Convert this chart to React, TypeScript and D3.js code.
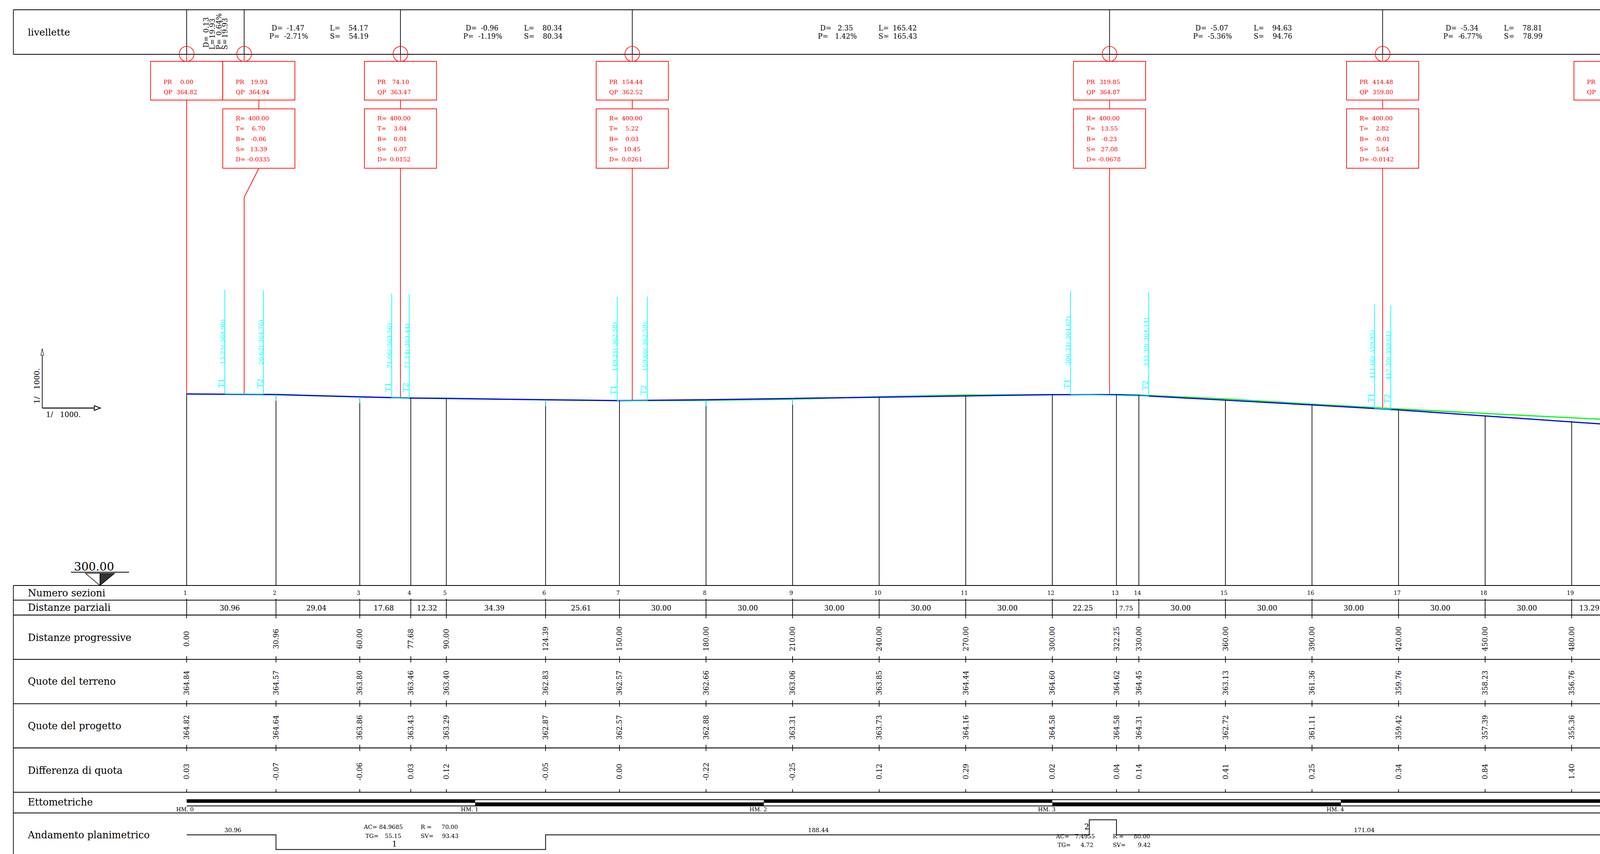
import React from "react";
import * as d3 from "d3";

const W = 4192, H = 2185;
const SERIF = "'DejaVu Serif', serif";

// Sections
const sectionNumbers = ["1","2","3","4","5","6","7","8","9","10","11","12","13","14","15","16","17","18","19"];
const sectionProgressive = [0,30.96,60,77.68,90,124.39,150,180,210,240,270,300,322.25,330,360,390,420,450,480];
const partialDistances = ["30.96","29.04","17.68","12.32","34.39","25.61","30.00","30.00","30.00","30.00","30.00","22.25","7.75","30.00","30.00","30.00","30.00","30.00","13.29"];
const terrainLevels = [364.84,364.57,363.80,363.46,363.40,362.83,362.57,362.66,363.06,363.85,364.44,364.60,364.62,364.45,363.13,361.36,359.76,358.23,356.76];
const projectLevels = [364.82,364.64,363.86,363.43,363.29,362.87,362.57,362.88,363.31,363.73,364.16,364.58,364.58,364.31,362.72,361.11,359.42,357.39,355.36];
const levelDifferences = [0.03,-0.07,-0.06,0.03,0.12,-0.05,0,-0.22,-0.25,0.12,0.29,0.02,0.04,0.14,0.41,0.25,0.34,0.84,1.40];
// Section 20, just past the right edge of the sheet (estimated levels)
const nextSectionProgressive = 493.29;
const nextTerrainLevel = 356.13;
const nextProjectLevel = 354.46;

// Vertices of the grade line
const vertexPR = [0,19.93,74.10,154.44,319.85,414.48,493.29];
const vertexQP = [364.82,364.94,363.47,362.52,364.87,359.80,354.46];
const curveR = ["", "400.00","400.00","400.00","400.00","400.00",""];
const curveT = ["", "6.70","3.04","5.22","13.55","2.82",""];
const curveB = ["", "-0.06","0.01","0.03","-0.23","-0.01",""];
const curveS = ["", "13.39","6.07","10.45","27.08","5.64",""];
const curveD = ["", "-0.0335","0.0152","0.0261","-0.0678","-0.0142",""];

// Grades
const gradeD = ["0.13","-1.47","-0.96","2.35","-5.07","-5.34"];
const gradeP = ["0.64%","-2.71%","-1.19%","1.42%","-5.36%","-6.77%"];
const gradeL = ["19.93","54.17","80.34","165.42","94.63","78.81"];
const gradeS = ["19.93","54.19","80.34","165.43","94.76","78.99"];

// Tangent points
const tangentNames = ["T1","T2","T1","T2","T1","T2","T1","T2","T1","T2"];
const tangentPR = [13.23,26.62,71.06,77.14,149.21,159.66,306.31,333.38,411.66,417.30];
const tangentQP = [364.90,364.76,363.56,363.44,362.58,362.59,364.67,364.14,359.95,359.61];

// Hectometres
const hectometres = [0,100,200,300,400,500];

// Plan alignment
const planBreaks = [0,30.96,124.39,312.83,322.25,493.29];
const planStates = [0,-1,0,1,0];
const straightLengths = ["30.96","188.44","171.04"];
const straightSpans = [[0,30.96],[124.39,312.83],[322.25,493.29]];
const arcAC = ["84.9685","7.4955"];
const arcR = ["70.00","80.00"];
const arcTG = ["55.15","4.72"];
const arcSV = ["93.43","9.42"];
const arcNames = ["1","2"];
const arcSpans = [[30.96,124.39],[312.83,322.25]];
const arcDirections = [-1,1];

const rowLabels = ["Numero sezioni","Distanze parziali","Distanze progressive","Quote del terreno","Quote del progetto","Differenza di quota","Ettometriche","Andamento planimetrico"];
const rowBaselines = [1526,1563.5,1640,1752.5,1866.5,1980,2061.5,2145.5];
const rowLines = [1498,1535.5,1573.7,1687,1800.5,1913.7,2027,2080];

const M_PX = 7.56;
const x = d3.scaleLinear().domain([0, 100]).range([489, 489 + 100 * M_PX]);
const y = d3.scaleLinear().domain([300, 364.82]).range([1498, 1008]);
const RED = "#ff0000", CYAN = "#00ffff", BLACK = "#000";

type TP = { x: number; y: number; s: number; a?: string; f?: string; rot?: boolean; children: React.ReactNode };
function T({ x: tx, y: ty, s, a = "start", f = BLACK, rot = false, children }: TP) {
  return (
    <text
      x={rot ? 0 : tx}
      y={rot ? 0 : ty}
      transform={rot ? `translate(${tx},${ty}) rotate(-90)` : undefined}
      fontSize={s}
      textAnchor={a as any}
      fill={f}
      fontFamily={SERIF}
      style={{ whiteSpace: "pre" }}
    >
      {children}
    </text>
  );
}

const L = ({ x1, y1, x2, y2, c = BLACK, w = 1.8 }: any) => <line x1={x1} y1={y1} x2={x2} y2={y2} stroke={c} strokeWidth={w} />;

export default function App() {
  const profile = d3.line<[number, number]>().x(d => x(d[0])).y(d => y(d[1]));
  const terrainPts = [...sectionProgressive.map((p, i) => [p, terrainLevels[i]] as [number, number]), [nextSectionProgressive, nextTerrainLevel] as [number, number]];
  const projectPts = [...sectionProgressive.map((p, i) => [p, projectLevels[i]] as [number, number]), [nextSectionProgressive, nextProjectLevel] as [number, number]];

  const planY = (st: number) => 2136 + (st < 0 ? 37.5 : st > 0 ? -38.5 : 0);
  const planPath = d3.path();
  planStates.forEach((st, i) => {
    if (i === 0) planPath.moveTo(x(planBreaks[0]), planY(st));
    else planPath.lineTo(x(planBreaks[i]), planY(st));
    planPath.lineTo(x(planBreaks[i + 1]), planY(st));
  });

  const sectionTicks = sectionProgressive.map(p => x(p));
  const segmentXs = sectionProgressive.map((p, i) => (x(p) + x(p + +partialDistances[i])) / 2);

  return (
    <svg
      viewBox={`0 0 ${W} ${H}`}
      preserveAspectRatio="none"
      style={{ position: "absolute", left: 0, top: 0, width: "100vw", height: "100vh", background: "#fff", display: "block" }}
    >
      {/* Grade band */}
      <L x1={35} y1={25} x2={W} y2={25} w={2.2} />
      <L x1={35} y1={139} x2={W} y2={139} w={2.2} />
      <L x1={35} y1={25} x2={35} y2={139} />
      <T x={73} y={91} s={25}>livellette</T>
      {vertexPR.slice(0, 6).map((p, i) => <L key={i} x1={x(p)} y1={25} x2={x(p)} y2={139} />)}

      {/* First short grade, rotated */}
      {[["D=", gradeD[0], 546.7, 122, 44], ["L=", gradeL[0], 563, 127, 47], ["P=", gradeP[0], 580, 127, 34], ["S=", gradeS[0], 596, 127, 46]].map((r: any, i) => (
        <g key={i}>
          <T x={r[2]} y={r[3]} s={18} rot>{r[0]}</T>
          <T x={r[2]} y={r[4]} s={18} a="end" rot>{r[1]}</T>
        </g>
      ))}
      {/* Remaining grades */}
      {gradeD.map((d, i) => {
        if (i === 0) return null;
        const mid = (x(vertexPR[i]) + x(vertexPR[i + 1])) / 2;
        return (
          <g key={i}>
            <T x={mid - 133} y={78} s={18}>D=</T>
            <T x={mid - 47} y={78} s={18} a="end">{d}</T>
            <T x={mid - 139} y={99} s={18}>P=</T>
            <T x={mid - 37} y={99} s={18} a="end">{gradeP[i]}</T>
            <T x={mid + 20} y={78} s={18}>L=</T>
            <T x={mid + 120} y={78} s={18} a="end">{gradeL[i]}</T>
            <T x={mid + 20} y={99} s={18}>S=</T>
            <T x={mid + 121} y={99} s={18} a="end">{gradeS[i]}</T>
          </g>
        );
      })}

      {/* Vertices */}
      {vertexPR.map((p, i) => {
        const vx = x(p);
        const cx = i === 1 ? vx + 38.5 : vx;
        const left = cx - 94.5;
        const hasCurve = curveR[i] !== "";
        const onSheet = i < 6;
        const bottomY = y(vertexQP[i]);
        return (
          <g key={i}>
            {onSheet && <circle cx={vx} cy={138} r={19.3} fill="none" stroke={RED} strokeWidth={1.6} />}
            {onSheet && <L x1={vx} y1={139} x2={vx} y2={157} c={RED} />}
            <rect x={left} y={157} width={189} height={99} fill="#fff" stroke={RED} strokeWidth={1.8} />
            <T x={left + 34} y={215} s={15.5} f={RED}>PR</T>
            {onSheet && <T x={cx + 0.5} y={215} s={15.5} f={RED} a="middle">{p.toFixed(2)}</T>}
            <T x={left + 34} y={240.7} s={15.5} f={RED}>QP</T>
            {onSheet && <T x={cx + 0.5} y={240.7} s={15.5} f={RED} a="middle">{vertexQP[i].toFixed(2)}</T>}
            {hasCurve && (
              <>
                <L x1={cx} y1={256} x2={cx} y2={278.5} c={RED} />
                <rect x={left} y={278.5} width={189} height={152} fill="#fff" stroke={RED} strokeWidth={1.8} />
                {[["R=", curveR[i], 308], ["T=", curveT[i], 334], ["B=", curveB[i], 361], ["S=", curveS[i], 386.7], ["D=", curveD[i], 412.7]].map((r: any, k) => (
                  <g key={k}>
                    <T x={left + 34} y={r[2]} s={15.5} f={RED}>{r[0]}</T>
                    <T x={cx - 0.5} y={r[2]} s={15.5} f={RED} a="middle">{r[1]}</T>
                  </g>
                ))}
              </>
            )}
            {i === 0 && <L x1={vx} y1={256} x2={vx} y2={bottomY} c={RED} />}
            {i === 1 && <polyline points={`${cx},430.5 ${vx},505 ${vx},${bottomY}`} fill="none" stroke={RED} strokeWidth={1.8} />}
            {i > 1 && hasCurve && <L x1={vx} y1={430.5} x2={vx} y2={bottomY} c={RED} />}
          </g>
        );
      })}

      {/* Scale */}
      <L x1={110.7} y1={905} x2={110.7} y2={1044} />
      <path d={`M110.7,892 L107,909 L114.4,909 Z`} fill="#fff" stroke={BLACK} strokeWidth={1.2} />
      <L x1={110.7} y1={1044} x2={248} y2={1044} w={2.5} />
      <path d={`M263,1044 L247,1038 L247,1050 Z`} fill="#fff" stroke={BLACK} strokeWidth={2} />
      <T x={103.6} y={1033} s={19} rot>{"1/   1000."}</T>
      <T x={120.5} y={1066.7} s={19}>{"1/   1000."}</T>

      {/* Profile */}
      <path d={profile(terrainPts)!} fill="none" stroke="#00ff00" strokeWidth={3} />
      <path d={profile(projectPts)!} fill="none" stroke="#0000ff" strokeWidth={3} />

      {/* Tangent points */}
      {tangentPR.map((p, i) => {
        const tx = x(p), ty = y(tangentQP[i]);
        return (
          <g key={i}>
            <L x1={tx} y1={ty - 266} x2={tx} y2={ty} c={CYAN} />
            <T x={tx - 1} y={ty - 75} s={15.5} f={CYAN} rot>{`${p.toFixed(2)}( ${tangentQP[i].toFixed(2)})`}</T>
            <T x={tx - 3} y={ty - 15} s={19} f={CYAN} rot>{tangentNames[i]}</T>
            {i % 2 === 0 && <path d={profile([[p, tangentQP[i]], [tangentPR[i + 1], tangentQP[i + 1]]])!} fill="none" stroke={CYAN} strokeWidth={1.5} />}
          </g>
        );
      })}

      {/* Section verticals */}
      {sectionProgressive.map((p, i) => {
        const sx = x(p), sy = y(projectLevels[i]);
        const fill = levelDifferences[i] < 0;
        return (
          <g key={i}>
            <L x1={sx} y1={fill ? sy + 16 : sy} x2={sx} y2={1498} />
            {fill && <L x1={sx} y1={sy} x2={sx} y2={sy + 16} c="#00c8c8" />}
          </g>
        );
      })}

      {/* Datum */}
      <T x={194} y={1460} s={30}>300.00</T>
      <L x1={186} y1={1464} x2={338} y2={1464} w={2} />
      <path d={`M262,1467 L224,1467 L262,1498 Z`} fill="#fff" stroke={BLACK} strokeWidth={1.5} />
      <path d={`M262,1467 L300,1467 L262,1498 Z`} fill="#333" stroke={BLACK} strokeWidth={1.5} />

      {/* Table frame */}
      <L x1={35} y1={1498} x2={35} y2={H} />
      {rowLines.map((ry, i) => <L key={i} x1={35} y1={ry} x2={W} y2={ry} w={2.2} />)}
      {rowLabels.map((label, i) => <T key={i} x={73} y={rowBaselines[i]} s={25.5}>{label}</T>)}

      {/* Table ticks */}
      {sectionTicks.map((sx, i) => (
        <g key={i}>
          <L x1={sx} y1={1532} x2={sx} y2={1582} />
          <L x1={sx} y1={1679} x2={sx} y2={1695} />
          <L x1={sx} y1={1792} x2={sx} y2={1808} />
          <L x1={sx} y1={1905.5} x2={sx} y2={1921.5} />
          <L x1={sx} y1={2019} x2={sx} y2={2027} />
        </g>
      ))}

      {/* Table values */}
      {sectionProgressive.map((p, i) => {
        const sx = x(p);
        return (
          <g key={i}>
            <T x={sx - 3.6} y={1522.5} s={14.5} a="middle">{sectionNumbers[i]}</T>
            <T x={segmentXs[i] - 4} y={1562.5} s={i === 12 ? 16.5 : 18.5} a="middle">{partialDistances[i]}</T>
            <T x={sx + 6.6} y={1634.5} s={18} a="middle" rot>{p.toFixed(2)}</T>
            <T x={sx + 6.6} y={1747} s={18} a="middle" rot>{terrainLevels[i].toFixed(2)}</T>
            <T x={sx + 6.6} y={1861} s={18} a="middle" rot>{projectLevels[i].toFixed(2)}</T>
            <T x={sx + 6.6} y={1974} s={18} a="middle" rot>{levelDifferences[i].toFixed(2)}</T>
          </g>
        );
      })}

      {/* Hectometre bar */}
      <L x1={x(0)} y1={2046} x2={W} y2={2046} />
      <L x1={x(0)} y1={2062} x2={W} y2={2062} />
      {hectometres.slice(0, -1).map((h, i) => (
        <rect key={i} x={x(h)} y={i % 2 === 0 ? 2045.5 : 2053} width={x(hectometres[i + 1]) - x(h)} height={8.5} fill={BLACK} />
      ))}
      {hectometres.slice(0, -1).map((h, i) => (
        <T key={i} x={x(h) + (i === 0 ? -4.5 : -14.5)} y={2076} s={14.5} a="middle">{`HM. ${i}`}</T>
      ))}

      {/* Plan alignment */}
      <path d={planPath.toString()} fill="none" stroke={BLACK} strokeWidth={2} />
      {straightLengths.map((t, i) => (
        <T key={i} x={(x(straightSpans[i][0]) + x(straightSpans[i][1])) / 2 + (i === 0 ? 4 : 2.5)} y={2129} s={15.5} a="middle">{t}</T>
      ))}
      {arcNames.map((n, i) => {
        const c = (x(arcSpans[i][0]) + x(arcSpans[i][1])) / 2;
        const down = arcDirections[i] < 0;
        const y1 = down ? 2121.5 : 2145;
        const y2 = down ? 2144.5 : 2166.7;
        const y3 = down ? 2166.5 : 2121.7;
        return (
          <g key={i}>
            <T x={c - 123} y={y1} s={15}>AC=</T>
            <T x={c - 21} y={y1} s={15} a="end">{arcAC[i]}</T>
            <T x={c + 26} y={y1} s={15}>R =</T>
            <T x={c + 123.5} y={y1} s={15} a="end">{arcR[i]}</T>
            <T x={c - 119} y={y2} s={15}>TG=</T>
            <T x={c - 25} y={y2} s={15} a="end">{arcTG[i]}</T>
            <T x={c + 26} y={y2} s={15}>SV=</T>
            <T x={c + 125} y={y2} s={15} a="end">{arcSV[i]}</T>
            <T x={c - 42.5} y={y3} s={20} a="middle">{n}</T>
          </g>
        );
      })}
    </svg>
  );
}
